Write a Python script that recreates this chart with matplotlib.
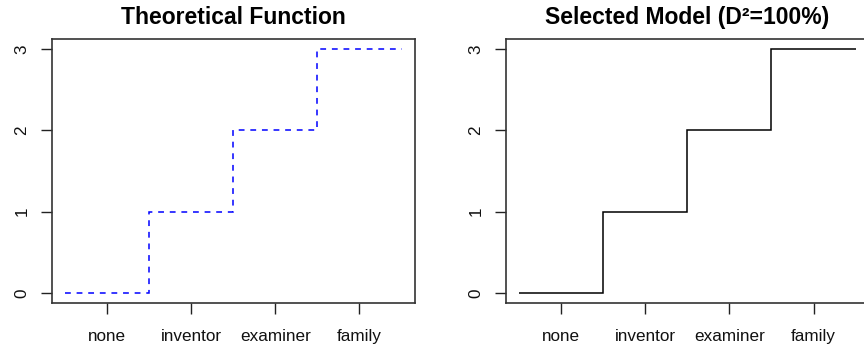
import matplotlib.pyplot as plt

plt.rcParams['font.family'] = ['Liberation Sans', 'DejaVu Sans']

# step function over the four categories
categories = ["none", "inventor", "examiner", "family"]
theoretical = [0, 1, 2, 3]
selected = [0, 1, 2, 3]
d2_pct = 100

positions = list(range(1, len(categories) + 1))
edges = [p - 0.5 for p in positions] + [positions[-1] + 0.5]


def style_axes(ax, title):
    ax.set_xlim(0.34, 4.66)
    ax.set_ylim(-0.12, 3.12)
    ax.set_xticks(positions)
    ax.set_xticklabels(categories)
    ax.set_yticks([0, 1, 2, 3])
    ax.set_yticklabels(["0", "1", "2", "3"], rotation=90, va="center")
    ax.tick_params(axis="both", length=8, width=1.0, color="#222222",
                   labelsize=12.3, labelcolor="#111111")
    ax.tick_params(axis="x", pad=11)
    ax.tick_params(axis="y", pad=8)
    for s in ax.spines.values():
        s.set_linewidth(1.2)
        s.set_color("#333333")
    ax.set_title(title, fontsize=16.5, fontweight="bold", pad=10.5)


fig = plt.figure(figsize=(8.64, 3.56), dpi=100)
ax1 = fig.add_axes([0.0598, 0.1489, 0.4205, 0.7416])
ax2 = fig.add_axes([0.5853, 0.1489, 0.4205, 0.7416])

ax1.stairs(theoretical, edges, baseline=None, color="#0000ff",
           linewidth=1.1, linestyle=(0, (3.8, 3.8)))
style_axes(ax1, "Theoretical Function")

ax2.stairs(selected, edges, baseline=None, color="black", linewidth=1.1)
style_axes(ax2, f"Selected Model (D²={d2_pct}%)")

fig.savefig("out.png", dpi=100)
